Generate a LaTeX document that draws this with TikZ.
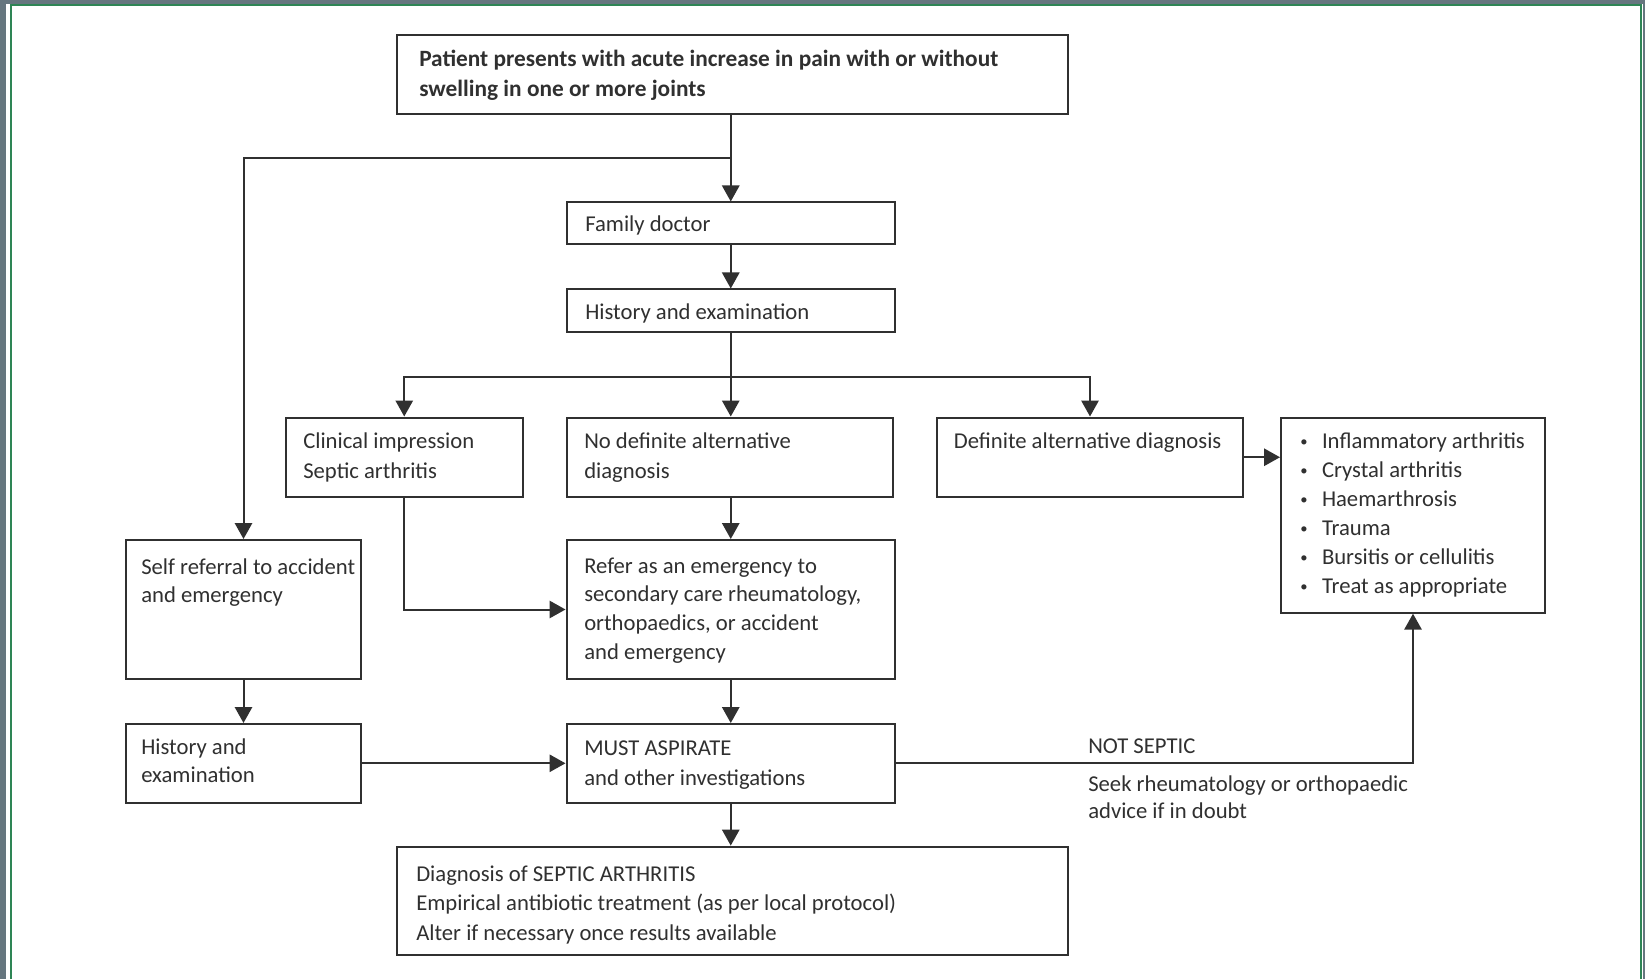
\documentclass[tikz,border=0pt]{standalone}
\usepackage{fontspec}
\setmainfont{Carlito}
\usetikzlibrary{arrows.meta,fit}
\definecolor{ink}{HTML}{303030}
\definecolor{frameGrey}{HTML}{66767F}
\definecolor{frameGreen}{HTML}{2E8555}
\newcommand{\listdot}{\makebox[16.3pt][l]{\raisebox{1.6pt}{\fontsize{11}{11}\selectfont\textbullet}}}
\begin{document}
\begin{tikzpicture}[x=0.75pt,y=-0.75pt,
  box/.style={draw=ink, line width=1.5pt, inner sep=0pt},
  txt/.style={anchor=north west, inner sep=0pt, align=left, text=ink,
    font=\fontsize{17}{21}\selectfont},
  list/.style={txt, font=\fontsize{17}{21.75}\selectfont},
  ln/.style={draw=ink, line width=1.5pt},
  arr/.style={ln, -{Triangle[width=13pt,length=12pt]}}]

% page frame
\fill[frameGrey] (0,0) rectangle (1645,979);
\fill[white] (6,4) rectangle (1643,979);
\draw[frameGreen, line width=1.5pt] (11,979) -- (11,5) -- (1641.3,5) -- (1641.3,979);
\useasboundingbox (0,0) rectangle (1645,979);

% boxes
\node[box, fit={(397,35) (1068,114)}] (top) {};
\node[box, fit={(566.5,202.5) (895,244)}] (famdoc) {};
\node[box, fit={(566.5,289.5) (895,332.5)}] (hist) {};
\node[box, fit={(286,417.5) (522.5,497)}] (clinical) {};
\node[box, fit={(566.5,417.5) (893,497)}] (nodef) {};
\node[box, fit={(937,417.5) (1243,497)}] (defalt) {};
\node[box, fit={(1281,417.5) (1545,612.7)}] (bullets) {};
\node[box, fit={(126,540) (361,679)}] (selfref) {};
\node[box, fit={(566.5,540) (895,679)}] (refer) {};
\node[box, fit={(126,724) (361,802.6)}] (histL) {};
\node[box, fit={(566.5,724) (895,802.6)}] (must) {};
\node[box, fit={(397,846.6) (1068,954.7)}] (diag) {};

% texts
\node[txt, font=\fontsize{17.5}{22.8}\selectfont\bfseries] (topT) at (419,44.7)
  {\strut Patient presents with acute increase in pain with or without\\swelling in one or more joints};
\node[txt] (famdocT) at (585,212.1) {\strut Family doctor};
\node[txt] (histT) at (585,299.2) {\strut History and examination};
\node[txt, font=\fontsize{17}{22.8}\selectfont] (clinicalT) at (303,426.7) {\strut Clinical impression\\Septic arthritis};
\node[txt, font=\fontsize{17}{22.8}\selectfont] (nodefT) at (584,426.7) {\strut No definite alternative\\diagnosis};
\node[txt] (defaltT) at (953.6,428.4) {\strut Definite alternative diagnosis};
\node[list] (bulletsT) at (1300,428)
  {\strut\listdot Inflammatory arthritis\\
   \listdot Crystal arthritis\\
   \listdot Haemarthrosis\\
   \listdot Trauma\\
   \listdot Bursitis or cellulitis\\
   \listdot Treat as appropriate};
\node[txt] (selfrefT) at (141,554.4) {\strut Self referral to accident\\and emergency};
\node[txt, font=\fontsize{17}{21.5}\selectfont] (referT) at (584,552.9)
  {\strut Refer as an emergency to\\secondary care rheumatology,\\orthopaedics, or accident\\and emergency};
\node[txt] (histLT) at (141,734.7) {\strut History and\\examination};
\node[txt, font=\fontsize{17}{22.5}\selectfont] (mustT) at (584,733.9) {\strut MUST ASPIRATE\\and other investigations};
\node[txt] (notsepT) at (1088,733.7) {\strut NOT SEPTIC};
\node[txt, font=\fontsize{17}{20.5}\selectfont] (seekT) at (1088,771.9) {\strut Seek rheumatology or orthopaedic\\advice if in doubt};
\node[txt, font=\fontsize{17}{22}\selectfont] (diagT) at (416,860.7)
  {\strut Diagnosis of SEPTIC ARTHRITIS\\Empirical antibiotic treatment (as per local protocol)\\Alter if necessary once results available};

% junctions
\coordinate (jTop) at (730.75,158.4);
\coordinate (jMid) at (730.75,376.6);

% connectors
\draw[arr] (top.south -| famdoc.north) -- (famdoc.north);
\draw[arr] (jTop) -| (selfref.north);
\draw[arr] (famdoc.south) -- (hist.north);
\draw[ln] (hist.south) -- (jMid);
\draw[arr] (jMid) -| (clinical.north);
\draw[arr] (jMid) -| (defalt.north);
\draw[arr] (jMid) -- (jMid |- nodef.north);
\draw[arr] (nodef.south -| refer.north) -- (refer.north);
\draw[arr] (clinical.south) |- (refer.west);
\draw[arr] (defalt.east) -- (defalt.east -| bullets.west);
\draw[arr] (selfref.south) -- (histL.north);
\draw[arr] (refer.south) -- (must.north);
\draw[arr] (histL.east) -- (must.west);
\draw[arr] (must.east) -| (bullets.south);
\draw[arr] (must.south) -- (must.south |- diag.north);
\end{tikzpicture}
\end{document}
